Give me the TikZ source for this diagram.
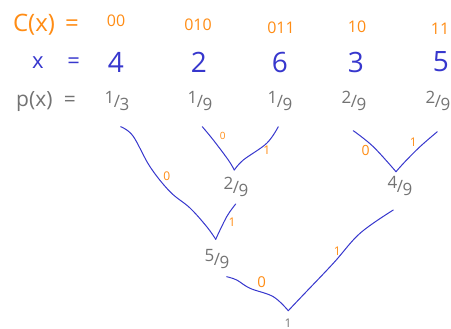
\documentclass[tikz,border=0pt]{standalone}
\usepackage{fontspec}
\setmainfont{Open Sans}
\definecolor{codeor}{RGB}{255,140,20}
\definecolor{penblue}{RGB}{55,55,205}
\definecolor{pengray}{RGB}{115,115,115}
\newcommand{\hfr}[2]{\raisebox{4pt}{#1}\kern-0.5pt/\kern-0.5pt\raisebox{-3pt}{#2}}
\begin{document}
\begin{tikzpicture}[x=1pt,y=1pt,
  codetxt/.style={text=codeor,font=\fontsize{16}{16}\selectfont,inner sep=0pt},
  symtxt/.style={text=penblue,font=\fontsize{28}{28}\selectfont,inner sep=0pt},
  probtxt/.style={text=pengray,font=\fontsize{17}{17}\selectfont,inner sep=0pt},
  bitlbl/.style={text=codeor,font=\fontsize{12}{12}\selectfont,inner sep=0pt},
  branch/.style={draw=penblue,line width=1pt,line cap=round,line join=round}]
\useasboundingbox (0,0) rectangle (451,-329);
% row 1: codes
\node[codetxt,font=\fontsize{24}{24}\selectfont] (clbl) at (46,-25) {C(x)\, =};
\node[codetxt] (c4) at (116,-21) {00};
\node[codetxt] (c2) at (198,-25) {010};
\node[codetxt] (c6) at (281,-28) {011};
\node[codetxt] (c3) at (357,-27) {10};
\node[codetxt] (c5) at (440,-29) {11};
% row 2: symbols
\node[symtxt,font=\fontsize{22}{22}\selectfont] (xlbl) at (56,-63) {x \;\; =};
\node[symtxt] (x4) at (116,-62) {4};
\node[symtxt] (x2) at (199,-62) {2};
\node[symtxt] (x6) at (280,-62) {6};
\node[symtxt] (x3) at (356,-62) {3};
\node[symtxt] (x5) at (441,-62) {5};
% row 3: probabilities
\node[probtxt,font=\fontsize{21}{21}\selectfont] (plbl) at (46,-102) {p(x)\; =};
\node[probtxt] (p4) at (117,-101) {\hfr{1}{3}};
\node[probtxt] (p2) at (200,-101) {\hfr{1}{9}};
\node[probtxt] (p6) at (280,-101) {\hfr{1}{9}};
\node[probtxt] (p3) at (354,-101) {\hfr{2}{9}};
\node[probtxt] (p5) at (438,-101) {\hfr{2}{9}};
% internal node labels
\node[probtxt] (n29) at (236,-187) {\hfr{2}{9}};
\node[probtxt] (n49) at (400,-186) {\hfr{4}{9}};
\node[probtxt] (n59) at (217,-259) {\hfr{5}{9}};
\node[probtxt,font=\fontsize{12}{12}\selectfont] (n1) at (288,-323) {1};
% branch end points
\coordinate (a1) at (120.7,-126.7);
\coordinate (v59) at (215.7,-239.3);
\coordinate (d1) at (235.7,-204);
\coordinate (b1) at (202.3,-126.7);
\coordinate (v29) at (234.3,-170);
\coordinate (b2) at (278.3,-126.7);
\coordinate (e1) at (353.3,-130.7);
\coordinate (v49) at (396,-171.7);
\coordinate (e2) at (437.3,-131.7);
\coordinate (f1) at (226.7,-276.7);
\coordinate (vr) at (288.3,-310.7);
\coordinate (f2) at (393.3,-210);
% branches
\draw[branch] plot[smooth,tension=0.6] coordinates {(a1) (133,-136) (150,-166.7) (170,-191.7) (190,-208) (207,-227) (v59)};
\draw[branch] plot[smooth,tension=0.6] coordinates {(v59) (226.7,-216.7) (d1)};
\draw[branch] plot[smooth,tension=0.6] coordinates {(b1) (213.3,-140) (228.3,-160) (v29)};
\draw[branch] plot[smooth,tension=0.6] coordinates {(v29) (243.3,-160) (266.7,-143.3) (b2)};
\draw[branch] plot[smooth,tension=0.6] coordinates {(e1) (373.3,-146.7) (v49)};
\draw[branch] plot[smooth,tension=0.6] coordinates {(v49) (405,-161.7) (420,-146.7) (e2)};
\draw[branch] plot[smooth,tension=0.6] coordinates {(f1) (236.7,-280) (250,-288.3) (273.3,-296.7) (vr)};
\draw[branch] plot[smooth,tension=0.6] coordinates {(vr) (300,-298.3) (333.3,-263.3) (360,-233.3) (f2)};
% bit labels
\node[bitlbl,font=\fontsize{10}{10}\selectfont] (l1) at (222.7,-136) {0};
\node[bitlbl] (l2) at (266.7,-150) {1};
\node[bitlbl,font=\fontsize{14}{14}\selectfont] (l3) at (365.7,-150.7) {0};
\node[bitlbl] (l4) at (413.3,-142.7) {1};
\node[bitlbl] (l5) at (166.7,-176) {0};
\node[bitlbl] (l6) at (232,-222.7) {1};
\node[bitlbl,font=\fontsize{15}{15}\selectfont] (l7) at (261.7,-281.7) {0};
\node[bitlbl] (l8) at (337.3,-251.7) {1};
\end{tikzpicture}
\end{document}
